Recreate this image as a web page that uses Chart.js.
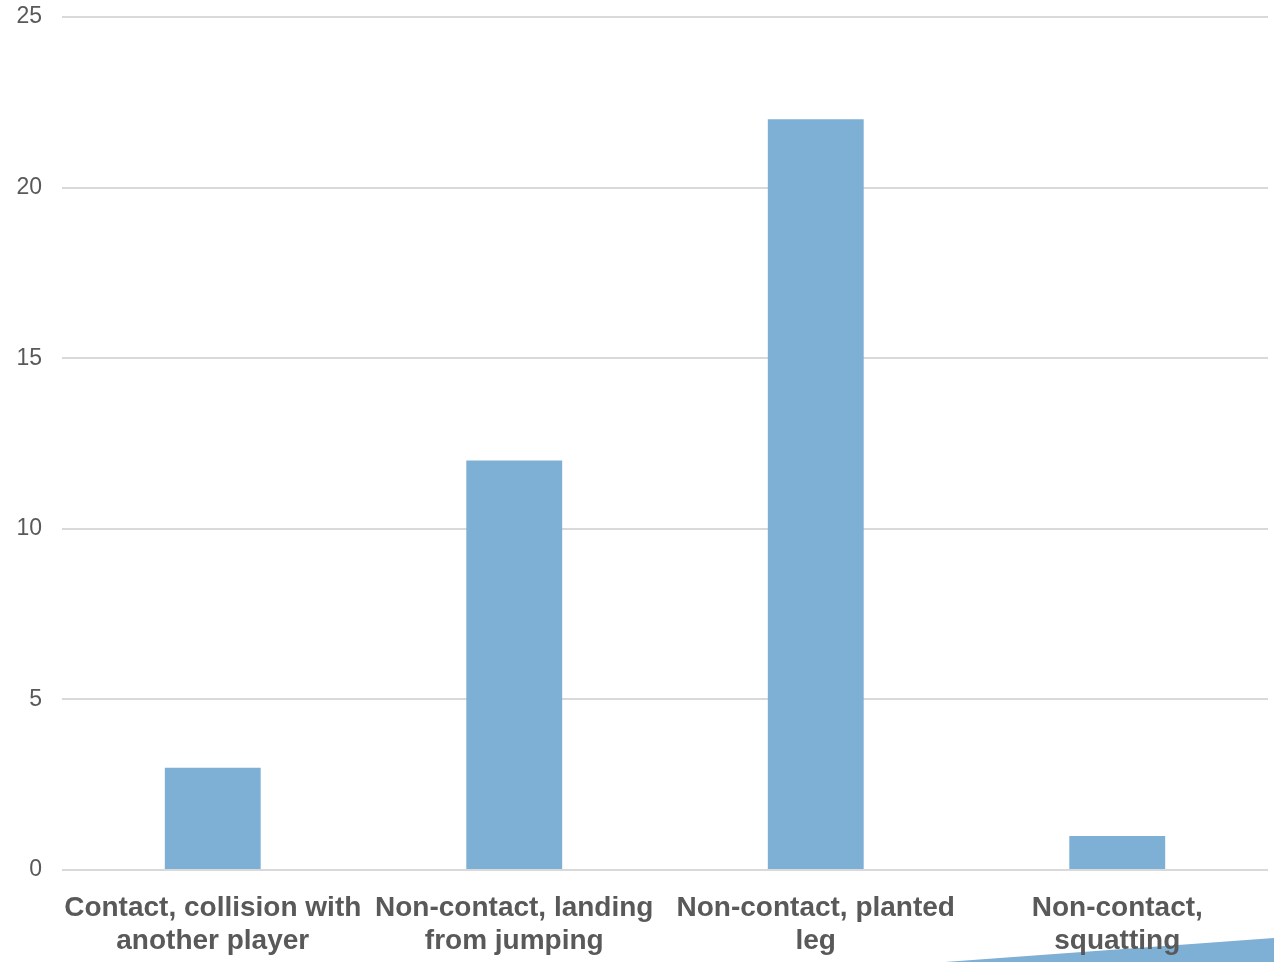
<!DOCTYPE html>
<html>
<head>
<meta charset="utf-8">
<script src="https://cdn.jsdelivr.net/npm/chart.js@4/dist/chart.umd.min.js"></script>
<style>
  html, body { margin: 0; padding: 0; background: #ffffff; }
  #wrap { width: 1274px; height: 962px; position: relative; }
</style>
</head>
<body>
<div id="wrap"><canvas id="c"></canvas></div>
<script>
// Injury mechanism categories (two-line labels)
const categories = [
  ['Contact, collision with', 'another player'],
  ['Non-contact, landing', 'from jumping'],
  ['Non-contact, planted', 'leg'],
  ['Non-contact,', 'squatting']
];
// Number of cases per mechanism
const caseCounts = [3, 12, 22, 1];
// Value axis range
const yMin = 0;
const yMax = 25;
const yStep = 5;

const barColor = '#7eafd5';
const textColor = '#595959';

// Decorative corner wedge in the bottom-right corner
const cornerWedge = {
  id: 'cornerWedge',
  beforeDraw(chart) {
    const ctx = chart.ctx;
    const w = chart.width, h = chart.height;
    ctx.save();
    ctx.fillStyle = barColor;
    ctx.beginPath();
    ctx.moveTo(w - 329, h);
    ctx.lineTo(w, h - 24);
    ctx.lineTo(w, h);
    ctx.closePath();
    ctx.fill();
    ctx.restore();
  }
};

new Chart(document.getElementById('c'), {
  type: 'bar',
  data: {
    labels: categories,
    datasets: [{
      data: caseCounts,
      backgroundColor: barColor,
      borderWidth: 0,
      categoryPercentage: 1,
      barPercentage: 0.318
    }]
  },
  options: {
    responsive: true,
    maintainAspectRatio: false,
    animation: false,
    layout: { padding: { top: 17, right: 6, left: 0, bottom: 0 } },
    plugins: {
      legend: { display: false },
      tooltip: { enabled: false }
    },
    scales: {
      x: {
        grid: { display: false, drawTicks: false },
        border: { display: false },
        ticks: {
          color: textColor,
          font: { family: 'Liberation Sans, Arial, sans-serif', size: 28, weight: 'bold', lineHeight: 1.18 },
          padding: 22,
          maxRotation: 0,
          autoSkip: false
        },
        afterFit(scale) { scale.height = 92; }
      },
      y: {
        min: yMin,
        max: yMax,
        grid: { color: '#d9d9d9', lineWidth: 2, drawTicks: false },
        border: { display: false },
        ticks: {
          stepSize: yStep,
          color: textColor,
          font: { family: 'Liberation Sans, Arial, sans-serif', size: 23 },
          padding: 20
        },
        afterFit(scale) {
          scale.width = 62;
          scale.paddingTop = 0;
          scale.paddingBottom = 0;
        }
      }
    }
  },
  plugins: [cornerWedge]
});
</script>
</body>
</html>
